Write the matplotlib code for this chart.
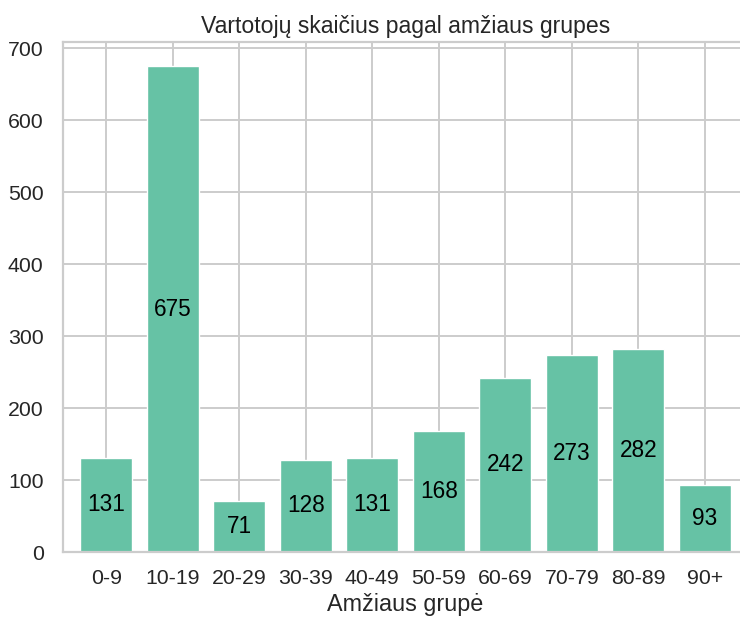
import matplotlib
matplotlib.use("Agg")
import matplotlib.pyplot as plt
import seaborn as sns

categories = ["0-9", "10-19", "20-29", "30-39", "40-49", "50-59", "60-69", "70-79", "80-89", "90+"]
counts = [131, 675, 71, 128, 131, 168, 242, 273, 282, 93]

sns.set_theme(style="whitegrid")
plt.rcParams['font.family'] = ['Liberation Sans', 'DejaVu Sans']
plt.rcParams['grid.linewidth'] = 1.4
plt.rcParams['axes.linewidth'] = 1.6

fig, ax = plt.subplots(figsize=(7.4, 6.19), dpi=100)
bars = ax.bar(categories, counts, color="#66c2a5", width=0.78)
ax.bar_label(bars, label_type="center", fontsize=16.3, color="black")
ax.set_title("Vartotojų skaičius pagal amžiaus grupes", fontsize=16.6, color="#262626")
ax.set_xlabel("Amžiaus grupė", fontsize=16.8, labelpad=3)
ax.tick_params(axis="both", labelsize=15.3)
ax.tick_params(axis="y", pad=8)
ax.tick_params(axis="x", pad=6.5)
ax.set_xlim(-0.65, 9.64)
ax.set_axisbelow(True)
fig.subplots_adjust(left=0.0851, right=1.01, top=0.9326, bottom=0.1082)
fig.savefig("out.png", dpi=100)
